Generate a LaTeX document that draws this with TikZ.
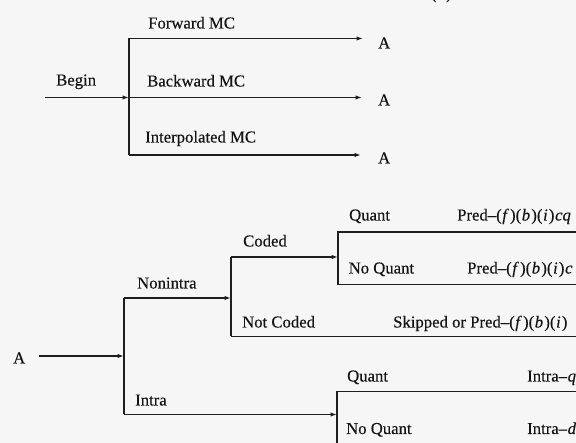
\documentclass[tikz,border=0pt]{standalone}
\usepackage{fontspec}
\setmainfont{Liberation Serif}[
  UprightFeatures={FakeBold=0.35},
  ItalicFeatures={FakeBold=0.35}]
\usetikzlibrary{arrows.meta}
\definecolor{paper}{RGB}{246,246,246}
\definecolor{ink}{RGB}{20,20,20}
\definecolor{rule}{RGB}{30,30,30}
% italic variable with a little room on both sides, as in set math
\newcommand{\iv}[1]{\kern0.6pt\textit{#1}\kern1.2pt}
\begin{document}
\begin{tikzpicture}[x=1pt,y=1pt,
  lbl/.style={anchor=base west,inner sep=0pt,text=ink,font=\fontsize{16.7}{20}\selectfont},
  wire/.style={draw=rule,line width=1.3pt},
  arr/.style={wire,-{Latex[length=6.5pt,width=4.5pt]}}]
  % page
  \fill[paper] (0,0) rectangle (576,443);
  \useasboundingbox (0,0) rectangle (576,443);

  % caption tail cut by the top edge
  \node[lbl,font=\fontsize{16.7}{20}\selectfont\bfseries] (cap) at (431,443.5) {(b)};

  % ---------- upper tree: prediction mode ----------
  \coordinate (bs) at (45,345.5);
  \coordinate (bj) at (129,345.5);
  \coordinate (bt) at (129,404.5);
  \coordinate (bb) at (129,288);
  \coordinate (fwd) at (363,404.5);
  \coordinate (bwd) at (362,345.5);
  \coordinate (itp) at (361,288);

  \node[lbl] (begin) at (56,357.5) {Begin};
  \node[lbl] (lfwd) at (148,414.5) {Forward MC};
  \node[lbl] (lbwd) at (147,356.5) {Backward MC};
  \node[lbl] (litp) at (145,300.5) {Interpolated MC};
  \node[lbl] (a1) at (378,394.5) {A};
  \node[lbl] (a2) at (378,337.5) {A};
  \node[lbl] (a3) at (378,279.5) {A};

  \draw[arr] (bs) -- (bj);
  \draw[wire] (bt) -- (bb);
  \draw[arr] (bt) -- (fwd);
  \draw[arr] (bj) -- (bwd);
  \draw[arr] (bb) -- (itp);

  % ---------- lower tree: macroblock type ----------
  \node[lbl] (a0) at (13,79.5) {A};
  \coordinate (as) at (39,87);
  \coordinate (aj) at (124,87);
  \coordinate (at) at (124,145);
  \coordinate (ab) at (124,28.5);
  \coordinate (nj) at (231,145);
  \coordinate (ct) at (231,186);
  \coordinate (cb) at (231,106.5);
  \coordinate (nce) at (580,106.5);

  \draw[arr] (as) -- (aj);
  \draw[wire] (at) -- (ab);
  \draw[arr] (at) -- (nj);
  \draw[wire] (ct) -- (cb);
  \draw[wire] (cb) -- (nce);

  \node[lbl] (nonintra) at (137,154.5) {Nonintra};
  \node[lbl] (intra) at (135,37.5) {Intra};
  \node[lbl] (coded) at (243,196.5) {Coded};
  \node[lbl] (notcoded) at (242,115.5) {Not Coded};
  \node[lbl] (skip) at (393,115.5) {Skipped or Pred--(\iv{f})(\iv{b})(\iv{i})};

  % coded: quantiser choice
  \coordinate (q1t) at (338,211);
  \coordinate (q1b) at (338,158.5);
  \coordinate (q1m) at (338,186);
  \coordinate (q1te) at (580,211);
  \coordinate (q1be) at (580,158.5);
  \draw[arr] (ct) -- (q1m);
  \draw[wire] (q1te) -- (q1t) -- (q1b) -- (q1be);

  \node[lbl] (q1) at (349,222.5) {Quant};
  \node[lbl] (nq1) at (348.5,169.5) {No Quant};
  \node[lbl] (pcq) at (457,222.5) {Pred--(\iv{f})(\iv{b})(\iv{i})\iv{cq}};
  \node[lbl] (pc) at (467,169.5) {Pred--(\iv{f})(\iv{b})(\iv{i})\iv{c}};

  % intra: quantiser choice
  \coordinate (q2t) at (337,51.5);
  \coordinate (q2b) at (337,-2);
  \coordinate (q2m) at (337,28.5);
  \coordinate (q2te) at (580,51.5);
  \coordinate (q2be) at (580,-2);
  \draw[arr] (ab) -- (q2m);
  \draw[wire] (q2te) -- (q2t) -- (q2b) -- (q2be);

  \node[lbl] (q2) at (347,61.5) {Quant};
  \node[lbl] (nq2) at (346,9) {No Quant};
  \node[lbl] (iq) at (527,61.5) {Intra--\iv{q}};
  \node[lbl] (id) at (527,9) {Intra--\iv{d}};
\end{tikzpicture}
\end{document}
